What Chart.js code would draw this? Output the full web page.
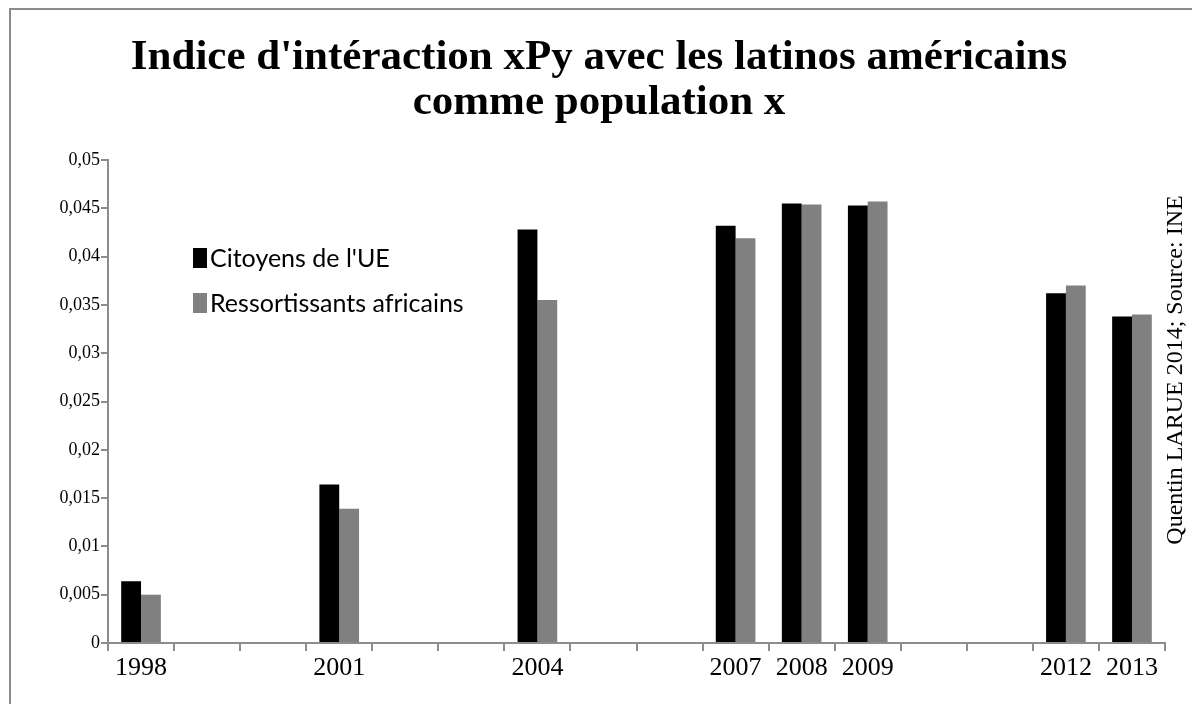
<!DOCTYPE html>
<html>
<head>
<meta charset="utf-8">
<title>Indice d'intéraction xPy</title>
<script src="https://cdn.jsdelivr.net/npm/chart.js@4/dist/chart.umd.min.js"></script>
<style>
    html, body { margin: 0; padding: 0; background: #fff; }
    #wrap { position: relative; width: 1192px; height: 704px; }
</style>
</head>
<body>
<div id="wrap"><canvas id="xpyChart"></canvas></div>
<script>
// years on the category axis (only years with data get a label)
const years = ['1998', '1999', '2000', '2001', '2002', '2003', '2004', '2005',
               '2006', '2007', '2008', '2009', '2010', '2011', '2012', '2013'];
const citoyensUE = [0.0064, null, null, 0.0164, null, null, 0.0428, null,
                    null, 0.0432, 0.0455, 0.0453, null, null, 0.0362, 0.0338];
const ressortissantsAfricains = [0.0050, null, null, 0.0139, null, null, 0.0355, null,
                                 null, 0.0419, 0.0454, 0.0457, null, null, 0.0370, 0.0340];
const seriesNames = ["Citoyens de l'UE", 'Ressortissants africains'];
const titleLines = ["Indice d'intéraction xPy avec les latinos américains", 'comme population x'];
const sourceText = 'Quentin LARUE 2014; Source: INE';

const serif = "'Liberation Serif', 'Times New Roman', serif";

// frame, title, legend inside the plot and rotated source note
const decorations = {
    id: 'decorations',
    beforeDraw(chart) {
        const ctx = chart.ctx;
        ctx.save();
        ctx.fillStyle = '#fff';
        ctx.fillRect(0, 0, chart.width, chart.height);
        ctx.strokeStyle = '#8c8c8c';
        ctx.lineWidth = 2;
        ctx.beginPath();
        ctx.moveTo(10, chart.height);
        ctx.lineTo(10, 9);
        ctx.lineTo(chart.width, 9);
        ctx.stroke();
        ctx.restore();
    },
    afterDraw(chart) {
        const ctx = chart.ctx;
        ctx.save();
        ctx.fillStyle = '#000';
        ctx.textBaseline = 'middle';
        ctx.textAlign = 'center';
        ctx.font = 'bold 43px ' + serif;
        titleLines.forEach((line, i) => ctx.fillText(line, 599, 58 + i * 45));

        ctx.textAlign = 'left';
        ctx.font = "25px Lato, 'Open Sans', sans-serif";
        chart.data.datasets.forEach((ds, i) => {
            const y = 258 + i * 45;
            ctx.fillStyle = ds.backgroundColor;
            ctx.fillRect(193, y - 10, 14, 20);
            ctx.fillStyle = '#000';
            ctx.fillText(ds.label, 210, y + 1);
        });

        ctx.translate(1176, 370);
        ctx.rotate(-Math.PI / 2);
        ctx.font = '24px ' + serif;
        ctx.textAlign = 'center';
        ctx.fillText(sourceText, 0, 0);
        ctx.restore();
    }
};

new Chart(document.getElementById('xpyChart').getContext('2d'), {
    type: 'bar',
    data: {
        labels: years,
        datasets: [{
            label: seriesNames[0],
            data: citoyensUE,
            backgroundColor: '#000000'
        }, {
            label: seriesNames[1],
            data: ressortissantsAfricains,
            backgroundColor: '#808080'
        }]
    },
    options: {
        responsive: true,
        maintainAspectRatio: false,
        animation: false,
        datasets: { bar: { categoryPercentage: 0.6, barPercentage: 1.0 } },
        layout: { padding: { left: 0, right: 27, top: 160, bottom: 0 } },
        plugins: {
            legend: { display: false },
            tooltip: { enabled: false },
            title: { display: false }
        },
        scales: {
            x: {
                grid: { display: true, drawOnChartArea: false, offset: true, color: '#8c8c8c', tickLength: 8, lineWidth: 2 },
                border: { color: '#8c8c8c', width: 2 },
                ticks: {
                    autoSkip: false,
                    maxRotation: 0,
                    color: '#000',
                    padding: 2,
                    font: { family: serif, size: 26 },
                    callback: function (value, index) {
                        return citoyensUE[index] == null ? '' : this.getLabelForValue(value);
                    }
                },
                afterFit: scale => { scale.height = 61; }
            },
            y: {
                min: 0,
                max: 0.05,
                grid: { display: true, drawOnChartArea: false, color: '#8c8c8c', tickLength: 7, lineWidth: 2 },
                border: { color: '#8c8c8c', width: 2 },
                ticks: {
                    stepSize: 0.005,
                    color: '#000',
                    padding: 1,
                    font: { family: serif, size: 18 },
                    callback: value => Number(value.toFixed(3)).toString().replace('.', ',')
                },
                afterFit: scale => { scale.width = 108; }
            }
        }
    },
    plugins: [decorations]
});
</script>
</body>
</html>
